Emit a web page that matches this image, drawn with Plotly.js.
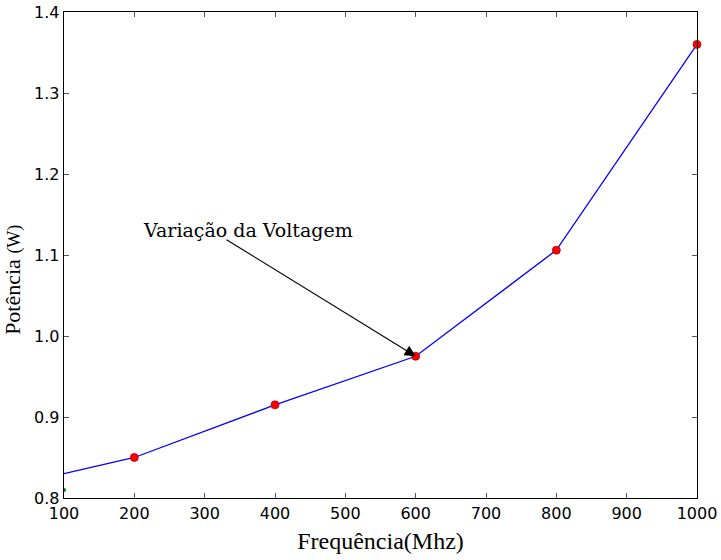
<!DOCTYPE html>
<html>
<head>
<meta charset="utf-8">
<script src="https://cdn.plot.ly/plotly-3.0.1.min.js"></script>
<style>body{margin:0;padding:0;background:#fff;}#chart{width:721px;height:560px;}</style>
</head>
<body>
<div id="chart"></div>
<script>
const freqLine = [100, 200, 400, 600, 800, 1000];
const powerLine = [0.83, 0.85, 0.915, 0.975, 1.106, 1.36];
const freqMarks = [200, 400, 600, 800, 1000];
const powerMarks = [0.85, 0.915, 0.975, 1.106, 1.36];
const freqGreen = [100];
const powerGreen = [0.81];
const xTicks = [100, 200, 300, 400, 500, 600, 700, 800, 900, 1000];
const yTicks = [0.8, 0.9, 1.0, 1.1, 1.2, 1.3, 1.4];
const yTickText = ['0.8', '0.9', '1.0', '1.1', '1.2', '1.3', '1.4'];
const xTitle = 'Frequência(Mhz)';
const yTitle = 'Potência <span style="font-size:18px">(W)</span>&nbsp;&nbsp;&nbsp;&nbsp;&nbsp;&nbsp;&nbsp;&nbsp;&nbsp;';
const annText = 'Variação da Voltagem';
const annPoint = [600, 0.975];
const annTail = [329, 1.12];
const annLabel = [361, 1.131];

const traces = [
  {x: freqLine, y: powerLine, mode: 'lines', line: {color: '#0000ff', width: 1.3}, hoverinfo: 'none'},
  {x: freqMarks, y: powerMarks, mode: 'markers', marker: {color: '#ff0000', size: 8, symbol: 'circle', line: {color: '#b00000', width: 0.8}}, cliponaxis: false},
  {x: freqGreen, y: powerGreen, mode: 'markers', marker: {color: '#008000', size: 4}, cliponaxis: true}
];

const axisCommon = {
  showgrid: false, zeroline: false, showline: true, linecolor: '#000', linewidth: 1.3,
  mirror: 'ticks', ticks: 'inside', ticklen: 5, tickwidth: 1, tickcolor: '#555',
  tickfont: {family: 'DejaVu Sans', size: 16, color: '#000'}
};

const layout = {
  width: 721, height: 560,
  margin: {l: 64, r: 24, t: 12, b: 62},
  paper_bgcolor: '#fff', plot_bgcolor: '#fff',
  showlegend: false,
  xaxis: Object.assign({}, axisCommon, {
    range: [100, 1000], tickvals: xTicks,
    title: {text: xTitle, font: {family: 'Liberation Serif', size: 24, color: '#000'}, standoff: 10}
  }),
  yaxis: Object.assign({}, axisCommon, {
    range: [0.8, 1.4], tickvals: yTicks, ticktext: yTickText,
    title: {text: yTitle, font: {family: 'Liberation Serif', size: 22, color: '#000'}, standoff: 10}
  }),
  annotations: [
    {x: annPoint[0], y: annPoint[1], xref: 'x', yref: 'y', ax: annTail[0], ay: annTail[1], axref: 'x', ayref: 'y',
     text: '', showarrow: true, arrowhead: 2, arrowsize: 2, arrowwidth: 1.1, arrowcolor: '#000', standoff: 0},
    {x: annLabel[0], y: annLabel[1], xref: 'x', yref: 'y', text: annText, showarrow: false,
     font: {family: 'DejaVu Serif', size: 19, color: '#000'}}
  ]
};

Plotly.newPlot('chart', traces, layout, {displayModeBar: false, staticPlot: true});
</script>
</body>
</html>
